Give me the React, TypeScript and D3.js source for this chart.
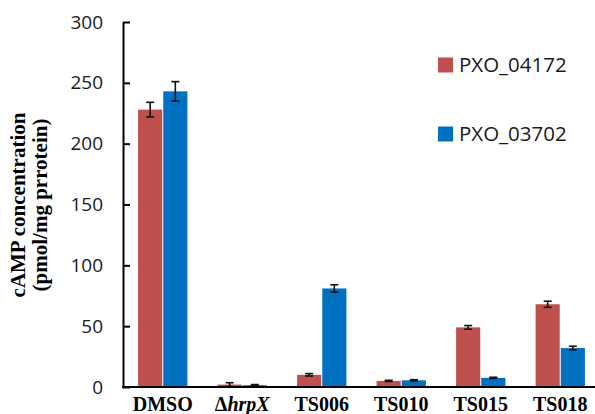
import React, { useEffect, useRef } from "react";
import * as d3 from "d3";

const categories = ["DMSO", "ΔhrpX", "TS006", "TS010", "TS015", "TS018"];
const seriesNames = ["PXO_04172", "PXO_03702"];
const pxo04172 = [228, 2, 10, 5, 49, 68];
const pxo04172Err = [6, 1.5, 1, 0.5, 1.5, 2.5];
const pxo03702 = [243, 1.5, 81, 5.5, 7.5, 32];
const pxo03702Err = [8, 0.5, 3, 0.5, 0.5, 1.5];
const yTicks = [0, 50, 100, 150, 200, 250, 300];
const colors = ["#C0504D", "#0070C0"];

const W = 595;
const H = 414;

export default function App() {
  const svgRef = useRef<SVGSVGElement>(null);

  useEffect(() => {
    const svg = d3.select(svgRef.current);
    svg.selectAll("*").remove();

    const x0 = d3.scaleBand().domain(categories).range([123, 600]).paddingInner(0).paddingOuter(0);
    const x1 = d3.scaleBand().domain(seriesNames).range([0, x0.bandwidth()]).paddingInner(0.04).paddingOuter(0.6);
    const y = d3.scaleLinear().domain([0, 300]).range([387, 22]);

    const series = [
      { name: seriesNames[0], values: pxo04172, errs: pxo04172Err },
      { name: seriesNames[1], values: pxo03702, errs: pxo03702Err },
    ];

    // bars
    series.forEach((s, si) => {
      const g = svg.append("g").attr("fill", colors[si]);
      g.selectAll("rect")
        .data(s.values)
        .join("rect")
        .attr("x", (d, i) => x0(categories[i])! + x1(s.name)!)
        .attr("y", d => y(d))
        .attr("width", x1.bandwidth())
        .attr("height", d => y(0) - y(d));

      // error bars
      const eg = svg.append("g").attr("stroke", "#111").attr("stroke-width", 1.6);
      s.values.forEach((v, i) => {
        const cx = x0(categories[i])! + x1(s.name)! + x1.bandwidth() / 2;
        const e = s.errs[i];
        eg.append("line").attr("x1", cx).attr("x2", cx).attr("y1", y(v - e)).attr("y2", y(v + e));
        eg.append("line").attr("x1", cx - 4).attr("x2", cx + 4).attr("y1", y(v - e)).attr("y2", y(v - e));
        eg.append("line").attr("x1", cx - 4).attr("x2", cx + 4).attr("y1", y(v + e)).attr("y2", y(v + e));
      });
    });

    // y axis
    const yAxis = d3.axisLeft(y).tickValues(yTicks).tickSizeInner(-7).tickSizeOuter(0).tickPadding(20);
    const ya = svg.append("g").attr("transform", "translate(123,0)").call(yAxis);
    ya.select(".domain").attr("stroke", "#000").attr("stroke-width", 2);
    ya.selectAll(".tick line").attr("stroke", "#000").attr("stroke-width", 2);
    ya.selectAll(".tick text")
      .attr("font-family", "'Open Sans', sans-serif")
      .attr("font-size", 19)
      .attr("fill", "#1a1a1a");

    // x axis line
    svg.append("line")
      .attr("x1", 122).attr("x2", 600)
      .attr("y1", y(0)).attr("y2", y(0))
      .attr("stroke", "#000").attr("stroke-width", 2);

    // x labels
    const xl = svg.append("g")
      .attr("font-family", "'Liberation Serif', 'Times New Roman', serif")
      .attr("font-weight", "bold")
      .attr("font-size", 20)
      .attr("text-anchor", "middle");
    categories.forEach(c => {
      const t = xl.append("text").attr("x", x0(c)! + x0.bandwidth() / 2).attr("y", 411);
      if (c === "ΔhrpX") {
        t.append("tspan").text("Δ");
        t.append("tspan").attr("font-style", "italic").text("hrpX");
      } else {
        t.text(c);
      }
    });

    // y title
    const yt = svg.append("g")
      .attr("font-family", "'Liberation Serif', 'Times New Roman', serif")
      .attr("font-weight", "bold")
      .attr("font-size", 21)
      .attr("text-anchor", "middle");
    yt.append("text").attr("transform", "translate(25,205) rotate(-90)").text("cAMP concentration");
    yt.append("text").attr("transform", "translate(47,205) rotate(-90)").text("(pmol/mg prrotein)");

    // legend
    const lg = svg.append("g");
    seriesNames.forEach((n, i) => {
      const cy = 65 + i * 69;
      lg.append("rect").attr("x", 438).attr("y", cy - 7.5).attr("width", 15).attr("height", 15).attr("fill", colors[i]);
      lg.append("text")
        .attr("x", 459).attr("y", cy + 7)
        .attr("font-family", "'Open Sans', sans-serif")
        .attr("font-size", 20.5)
        .attr("fill", "#1a1a1a")
        .text(n);
    });
  }, []);

  return (
    <svg ref={svgRef} width={W} height={H} style={{ position: "absolute", left: 0, top: 0, background: "#fff" }} />
  );
}
